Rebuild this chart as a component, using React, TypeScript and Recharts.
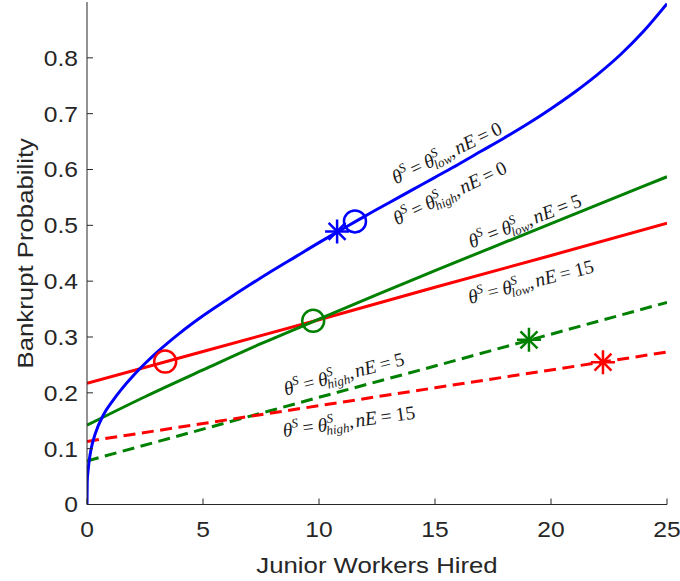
import {
  ComposedChart,
  Line,
  Scatter,
  XAxis,
  YAxis,
  ReferenceDot,
  Label,
} from "recharts";

// curves (x = junior workers hired, y = bankrupt probability)
const blueLowNE0 = [
  { x: 0, y: 0 },
  { x: 0.01, y: 0.04 },
  { x: 0.05, y: 0.062 },
  { x: 0.1, y: 0.08 },
  { x: 0.18, y: 0.1 },
  { x: 0.35, y: 0.126 },
  { x: 0.7, y: 0.16 },
  { x: 1.13, y: 0.187 },
  { x: 1.5, y: 0.207 },
  { x: 2, y: 0.231 },
  { x: 2.5, y: 0.2525 },
  { x: 3, y: 0.272 },
  { x: 4, y: 0.307 },
  { x: 5, y: 0.338 },
  { x: 6, y: 0.366 },
  { x: 7, y: 0.393 },
  { x: 8, y: 0.419 },
  { x: 9, y: 0.444 },
  { x: 10, y: 0.469 },
  { x: 11, y: 0.493 },
  { x: 12, y: 0.517 },
  { x: 13, y: 0.54 },
  { x: 14, y: 0.563 },
  { x: 15, y: 0.586 },
  { x: 16, y: 0.609 },
  { x: 17, y: 0.633 },
  { x: 18, y: 0.657 },
  { x: 19, y: 0.682 },
  { x: 20, y: 0.709 },
  { x: 21, y: 0.738 },
  { x: 22, y: 0.77 },
  { x: 23, y: 0.806 },
  { x: 24, y: 0.848 },
  { x: 25, y: 0.897 },
];

const greenLowNE5 = [
  { x: 0, y: 0.142 },
  { x: 2.5, y: 0.193 },
  { x: 5, y: 0.241 },
  { x: 7.5, y: 0.288 },
  { x: 10, y: 0.332 },
  { x: 12.5, y: 0.376 },
  { x: 15, y: 0.419 },
  { x: 17.5, y: 0.461 },
  { x: 20, y: 0.503 },
  { x: 22.5, y: 0.545 },
  { x: 25, y: 0.587 },
];

const redLowNE15 = [
  { x: 0, y: 0.217 },
  { x: 5, y: 0.274 },
  { x: 10, y: 0.331 },
  { x: 15, y: 0.389 },
  { x: 20, y: 0.446 },
  { x: 25, y: 0.504 },
];

const greenHighNE5 = [
  { x: 0, y: 0.078 },
  { x: 5, y: 0.135 },
  { x: 10, y: 0.192 },
  { x: 15, y: 0.248 },
  { x: 20, y: 0.305 },
  { x: 25, y: 0.362 },
];

const redHighNE15 = [
  { x: 0, y: 0.113 },
  { x: 5, y: 0.145 },
  { x: 10, y: 0.177 },
  { x: 15, y: 0.209 },
  { x: 20, y: 0.241 },
  { x: 25, y: 0.273 },
];

// marked optima
const blueCircle = [{ x: 11.55, y: 0.507 }];
const blueStar = [{ x: 10.78, y: 0.489 }];
const greenCircle = [{ x: 9.75, y: 0.329 }];
const greenStar = [{ x: 19.05, y: 0.295 }];
const redCircle = [{ x: 3.37, y: 0.256 }];
const redStar = [{ x: 22.24, y: 0.255 }];

const xTicks = [0, 5, 10, 15, 20, 25];
const yTicks = [0, 0.1, 0.2, 0.3, 0.4, 0.5, 0.6, 0.7, 0.8];

// curve annotations: theta subscript, nE value, anchor in data units, screen angle
const curveLabels = [
  { sub: "low", ne: "0", x: 15.52, y: 0.629, angle: -25.6 },
  { sub: "high", ne: "0", x: 15.65, y: 0.557, angle: -25.6 },
  { sub: "low", ne: "5", x: 18.88, y: 0.507, angle: -21 },
  { sub: "low", ne: "15", x: 19.14, y: 0.398, angle: -14.3 },
  { sub: "high", ne: "5", x: 11.08, y: 0.233, angle: -14.5 },
  { sub: "high", ne: "15", x: 11.29, y: 0.148, angle: -7.9 },
];

const AXIS = "#262626";
const SANS = "'Liberation Sans', Arial, Helvetica, sans-serif";
const SERIF = "'Liberation Serif', 'Times New Roman', serif";

const XTick = ({ x, y, payload }: any) => (
  <g transform={`translate(${x},${y})`}>
    <text transform="scale(1.12,1)" textAnchor="middle" dy="0.71em" fill={AXIS} fontSize={22} fontFamily={SANS}>
      {payload.value}
    </text>
  </g>
);

const YTick = ({ x, y, payload }: any) => (
  <g transform={`translate(${x},${y})`}>
    <text transform="scale(1.12,1)" textAnchor="end" dy="0.36em" fill={AXIS} fontSize={22} fontFamily={SANS}>
      {payload.value === 0 ? "0" : payload.value.toFixed(1)}
    </text>
  </g>
);

const Ring = (color: string) => (p: any) =>
  <circle cx={p.cx} cy={p.cy} r={11} fill="none" stroke={color} strokeWidth={2.5} />;

const Star = (color: string) => (p: any) => {
  const r = 12;
  const d = r * 0.707;
  return (
    <g stroke={color} strokeWidth={2.5}>
      <line x1={p.cx - r} y1={p.cy} x2={p.cx + r} y2={p.cy} />
      <line x1={p.cx} y1={p.cy - r} x2={p.cx} y2={p.cy + r} />
      <line x1={p.cx - d} y1={p.cy - d} x2={p.cx + d} y2={p.cy + d} />
      <line x1={p.cx - d} y1={p.cy + d} x2={p.cx + d} y2={p.cy - d} />
    </g>
  );
};

const MathLabel = ({ cx, cy, angle, sub, ne }: any) => (
  <text
    transform={`translate(${cx},${cy}) rotate(${angle})`}
    y={6}
    textAnchor="middle"
    fontFamily={SERIF}
    fontSize={19.5}
    fill="#1a1a1a"
  >
    <tspan fontStyle="italic">θ</tspan>
    <tspan fontStyle="italic" fontSize={13} dy={-8}>S</tspan>
    <tspan dy={8} dx={4}>=</tspan>
    <tspan fontStyle="italic" dx={4}>θ</tspan>
    <tspan fontStyle="italic" fontSize={13} dy={-8}>S</tspan>
    <tspan fontStyle="italic" fontSize={13} dx={-8} dy={12}>{sub}</tspan>
    <tspan dy={-4}>,</tspan>
    <tspan fontStyle="italic" dx={2}>nE</tspan>
    <tspan dx={4}>=</tspan>
    <tspan dx={4}>{ne}</tspan>
  </text>
);

export default function App() {
  return (
    <div style={{ position: "absolute", left: 0, top: 0 }}>
      <ComposedChart width={680} height={581} margin={{ top: 2, right: 13, bottom: 0, left: 0 }}>
        <XAxis
          xAxisId={0}
          dataKey="x"
          type="number"
          domain={[0, 25]}
          ticks={xTicks}
          height={76.5}
          tickSize={-6}
          tickMargin={23}
          tick={<XTick />}
          stroke={AXIS}
          axisLine={{ stroke: AXIS }}
          tickLine={{ stroke: AXIS }}
          allowDataOverflow
        >
          <Label
            content={(p: any) => {
              const vb = p.viewBox;
              return (
                <text
                  transform={`translate(${vb.x + vb.width / 2},${vb.y + 68}) scale(1.12,1)`}
                  textAnchor="middle"
                  fill={AXIS}
                  fontSize={23}
                  fontFamily={SANS}
                >
                  Junior Workers Hired
                </text>
              );
            }}
          />
        </XAxis>
        <XAxis
          xAxisId="top"
          orientation="top"
          dataKey="x"
          type="number"
          domain={[0, 25]}
          ticks={xTicks}
          height={0}
          tickSize={-6}
          tick={false}
          axisLine={{ stroke: AXIS }}
          tickLine={{ stroke: AXIS }}
          allowDataOverflow
        />
        <YAxis
          yAxisId={0}
          type="number"
          domain={[0, 0.9]}
          ticks={yTicks}
          width={87}
          tickSize={-6}
          tickMargin={15}
          tick={<YTick />}
          axisLine={{ stroke: AXIS }}
          tickLine={{ stroke: AXIS }}
          allowDataOverflow
        >
          <Label
            content={(p: any) => {
              const vb = p.viewBox;
              return (
                <text
                  transform={`translate(${vb.x + 33},${vb.y + vb.height / 2}) rotate(-90) scale(1.12,1)`}
                  textAnchor="middle"
                  fill={AXIS}
                  fontSize={23}
                  fontFamily={SANS}
                >
                  Bankrupt Probability
                </text>
              );
            }}
          />
        </YAxis>
        <YAxis
          yAxisId="right"
          orientation="right"
          type="number"
          domain={[0, 0.9]}
          ticks={yTicks}
          width={0}
          tickSize={-6}
          tick={false}
          axisLine={{ stroke: AXIS }}
          tickLine={{ stroke: AXIS }}
          allowDataOverflow
        />

        <Line data={greenHighNE5} dataKey="y" type="linear" stroke="#008000" strokeWidth={3} strokeDasharray="12 6.5" dot={false} isAnimationActive={false} />
        <Line data={redHighNE15} dataKey="y" type="linear" stroke="#ff0000" strokeWidth={3} strokeDasharray="12 6.5" dot={false} isAnimationActive={false} />
        <Line data={redLowNE15} dataKey="y" type="linear" stroke="#ff0000" strokeWidth={3} dot={false} isAnimationActive={false} />
        <Line data={greenLowNE5} dataKey="y" type="monotone" stroke="#008000" strokeWidth={3} dot={false} isAnimationActive={false} />
        <Line data={blueLowNE0} dataKey="y" type="monotone" stroke="#0000ff" strokeWidth={3} dot={false} isAnimationActive={false} />

        <Scatter data={blueCircle} dataKey="y" shape={Ring("#0000ff")} isAnimationActive={false} />
        <Scatter data={blueStar} dataKey="y" shape={Star("#0000ff")} isAnimationActive={false} />
        <Scatter data={greenCircle} dataKey="y" shape={Ring("#008000")} isAnimationActive={false} />
        <Scatter data={greenStar} dataKey="y" shape={Star("#008000")} isAnimationActive={false} />
        <Scatter data={redCircle} dataKey="y" shape={Ring("#ff0000")} isAnimationActive={false} />
        <Scatter data={redStar} dataKey="y" shape={Star("#ff0000")} isAnimationActive={false} />

        {curveLabels.map((l, i) => (
          <ReferenceDot
            key={i}
            x={l.x}
            y={l.y}
            r={0}
            ifOverflow="visible"
            shape={(p: any) => <MathLabel cx={p.cx} cy={p.cy} angle={l.angle} sub={l.sub} ne={l.ne} />}
          />
        ))}
      </ComposedChart>
    </div>
  );
}
